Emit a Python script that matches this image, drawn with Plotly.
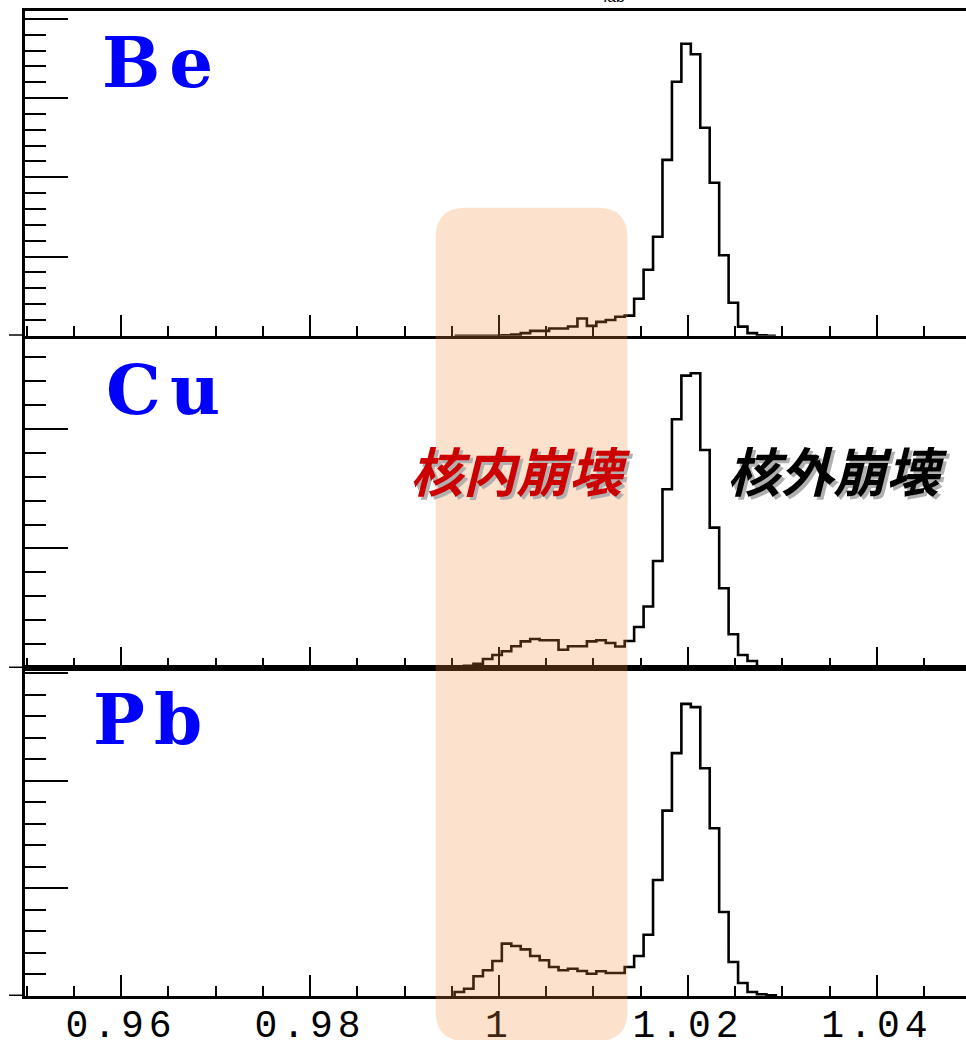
import plotly.graph_objects as go

W, H = 966, 1040

# ---------------- data ----------------
bin_left = [0.9953, 0.9963, 0.9973, 0.9983, 0.9993, 1.0003, 1.0013, 1.0023, 1.0033, 1.0043,
            1.0053, 1.0063, 1.0073, 1.0083, 1.0093, 1.0103, 1.0113, 1.0123, 1.0133, 1.0143,
            1.0153, 1.0163, 1.0173, 1.0183, 1.0193, 1.0203, 1.0213, 1.0223, 1.0233, 1.0243,
            1.0253, 1.0263, 1.0273, 1.0283]
bin_width = 0.001

be_counts = [0, 0, 0, 0, 0,
             0.6, 1.3, 3.2, 6.1, 6.1, 9.1, 9.1, 11.6, 21.7, 12.4, 17.4, 19.9, 24, 25.3, 46.7,
             83.3, 125, 222, 320.7, 368.7, 355.4, 262.6, 193.2, 101.6, 41.7, 11.4, 3.2, 0.6, 0]
cu_counts = [0, 1.9, 3.6, 7.5, 10.9,
             14, 18.2, 22.3, 24.3, 23.2, 23.2, 15.3, 18.2, 18.2, 22.3, 23.2, 20.9, 18, 22.6, 34.3,
             51.5, 89.5, 149.5, 208.1, 244.6, 246.6, 182.4, 117.4, 66.7, 28.2, 10.9, 5.9, 0, 0]
pb_counts = [3.7, 6.8, 18.3, 23.9, 32.6,
             48.7, 46.5, 43.4, 37.2, 33.2, 27, 23.9, 25.4, 23.3, 20.7, 23, 21.4, 21.4, 27, 37.2,
             57, 107.9, 172.4, 225.8, 271.6, 268.6, 211.8, 156, 78.1, 31.6, 12.1, 3.7, 1.6, 0.7]

targets = ["Be", "Cu", "Pb"]
x_range = [0.94984, 1.04942]
x_tickvals = [0.96, 0.98, 1.00, 1.02, 1.04]
x_ticktext = ["0.96", "0.98", "1", "1.02", "1.04"]
y_tops = [410, 275, 305]
band_x = [0.9933, 1.0136]
label_inside = "核内崩壊"
label_outside = "核外崩壊"

# ---------------- layout geometry (pixels -> paper) ----------------
def py(p):
    return 1 - p / H

x_domain = [25 / W, 1.0]
y_domains = [[py(335.7), py(11)], [py(668), py(339.3)], [py(996), py(668)]]

fig = go.Figure()

counts_list = [be_counts, cu_counts, pb_counts]
axis_ids = ["3", "2", ""]  # Be top, Cu middle, Pb bottom

for name, counts, aid in zip(targets, counts_list, axis_ids):
    end = bin_left[-1] + bin_width
    xs = [bin_left[0]] + bin_left + [end]
    ys = [0] + counts + [0]
    fig.add_trace(go.Scatter(
        x=xs, y=ys, mode="lines", line=dict(color="black", width=2.6, shape="hv"),
        xaxis="x" + aid, yaxis="y" + aid, showlegend=False, hoverinfo="skip",
        cliponaxis=False))

tick_text_spaced = [f'<span style="letter-spacing:5px">{t}</span>' for t in x_ticktext]

for i, (aid, top) in enumerate(zip(axis_ids, y_tops)):
    xa = dict(
        domain=x_domain, range=x_range, anchor="y" + aid,
        showline=True, linecolor="black", linewidth=3, mirror=True,
        ticks="inside", ticklen=21, tickwidth=2.2, tickcolor="black",
        tickvals=x_tickvals, ticktext=tick_text_spaced,
        minor=dict(dtick=0.005, tick0=0, ticks="inside", ticklen=10, tickwidth=2.2, tickcolor="black"),
        showgrid=False, zeroline=False,
        showticklabels=(aid == ""),
        tickfont=dict(family="Liberation Mono", size=38, color="black"),
        ticklabelstandoff=-8,
        automargin=False,
    )
    ya = dict(
        domain=y_domains[i], range=[0, top], anchor="x" + aid,
        showline=True, linecolor="black", linewidth=3, mirror=False,
        ticks="inside", ticklen=43, tickwidth=2.2, tickcolor="black",
        dtick=100, tick0=0,
        minor=dict(dtick=20, tick0=0, ticks="inside", ticklen=21, tickwidth=2.2, tickcolor="black"),
        showgrid=False, zeroline=False, showticklabels=False, automargin=False,
    )
    fig.update_layout(**{"xaxis" + aid: xa, "yaxis" + aid: ya})

shapes = []
# left stubs of the baselines
for aid in axis_ids:
    shapes.append(dict(type="line", xref="paper", yref="y" + aid, x0=9 / W, x1=25 / W,
                       y0=0, y1=0, line=dict(color="black", width=3)))

# rounded shaded band
x0, x1 = band_x
y0, y1 = py(1041), py(207.7)
rx, ry = 30 / 9450, 30 / H
path = (f"M {x0+rx},{y1} L {x1-rx},{y1} Q {x1},{y1} {x1},{y1-ry} L {x1},{y0+ry} "
        f"Q {x1},{y0} {x1-rx},{y0} L {x0+rx},{y0} Q {x0},{y0} {x0},{y0+ry} "
        f"L {x0},{y1-ry} Q {x0},{y1} {x0+rx},{y1} Z")
shapes.append(dict(type="path", path=path, xref="x", yref="paper", layer="above",
                   fillcolor="rgb(245,140,60)", opacity=0.26, line=dict(width=0)))
fig.update_layout(shapes=shapes)

ann = []
tgt_pos = [(100, 62), (104, 389), (91, 719)]
for name, (px_, pyy) in zip(targets, tgt_pos):
    ann.append(dict(text=f'<span style="letter-spacing:9px">{name}</span>', xref="paper", yref="paper",
                    x=px_ / W, y=py(pyy), xanchor="left", yanchor="middle", showarrow=False,
                    font=dict(family="DejaVu Serif", size=69, color="#0000FF", weight="bold")))

for txt, cx, col in [(label_inside, 520, "#CC0000"), (label_outside, 837, "black")]:
    ann.append(dict(text=txt, xref="paper", yref="paper", x=(cx + 3) / W, y=py(472),
                    xanchor="center", yanchor="middle", showarrow=False,
                    font=dict(family="Noto Sans CJK JP", size=53, color="#B0B0B0",
                              weight="bold", style="italic")))
    ann.append(dict(text=txt, xref="paper", yref="paper", x=cx / W, y=py(469),
                    xanchor="center", yanchor="middle", showarrow=False,
                    font=dict(family="Noto Sans CJK JP", size=53, color=col,
                              weight="bold", style="italic")))

# cut-off axis title fragments at the top edge
ann.append(dict(text="<i>γ</i>", xref="paper", yref="paper", x=303 / W, y=py(1.5),
                xanchor="center", yanchor="bottom", showarrow=False,
                font=dict(family="Liberation Sans", size=16, color="black")))
ann.append(dict(text="<i>lab</i>", xref="paper", yref="paper", x=614 / W, y=py(7),
                xanchor="center", yanchor="bottom", showarrow=False,
                font=dict(family="Liberation Sans", size=16, color="black")))
fig.update_layout(annotations=ann)

fig.update_layout(width=W, height=H, margin=dict(l=0, r=0, t=0, b=0),
                  paper_bgcolor="white", plot_bgcolor="white", showlegend=False)

fig.write_html("out.html", config={"displayModeBar": False},
               post_script="document.body.style.margin='0';document.body.style.overflow='hidden';")
